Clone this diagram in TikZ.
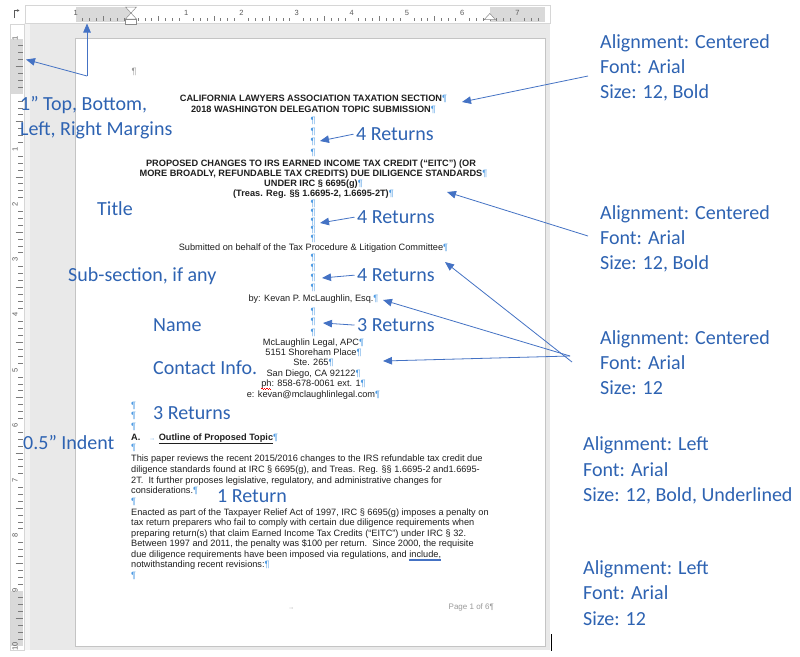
\documentclass[tikz,border=0pt]{standalone}
\usepackage{fontspec}
\setmainfont{Liberation Sans}
\newfontfamily\lblfont{Carlito}
\newfontfamily\docfont{Liberation Sans}
\usetikzlibrary{arrows.meta}
\definecolor{lblblue}{HTML}{2E63B2}
\definecolor{arrblue}{HTML}{4472C4}
\definecolor{pilblue}{HTML}{4F9BE3}
\definecolor{wsgray}{HTML}{E9E9E9}
\definecolor{rulgray}{HTML}{D9D9D9}
\definecolor{bordgray}{HTML}{C4C4C4}
\definecolor{numgray}{HTML}{5A5A5A}
\definecolor{ftgray}{HTML}{9A9A9A}
\newcommand\pil{{\color{pilblue}\mdseries ¶}}
\newcommand\pr{\rlap{\pil}}
\newcommand\sqz{\rule[-2.2pt]{1.25pt}{0.6pt}\rule[-3.1pt]{1.25pt}{0.6pt}}
\newcommand\redwave[1]{\rlap{\color{red}\sqz\sqz\sqz\sqz}#1}
\newcommand\dblul[1]{\sbox0{#1}\rlap{\color{arrblue}\rule[-1.7pt]{\wd0}{0.45pt}}\rlap{\color{arrblue}\rule[-2.9pt]{\wd0}{0.45pt}}\usebox0}
\begin{document}
\begin{tikzpicture}[x=1pt,y=-1pt,
 lbl/.style={font=\lblfont\fontsize{20}{24}\selectfont,text=lblblue,inner sep=0pt,anchor=base west},
 doc/.style={font={\docfont\fontsize{9.2}{11}\selectfont},text=black!88,inner sep=0pt,anchor=base},
 docb/.style={doc,font={\docfont\fontsize{9.2}{11}\selectfont\bfseries}},
 docl/.style={doc,anchor=base west},
 pmark/.style={doc,text=pilblue},
 conn/.style={draw=arrblue,line width=0.8pt,-{Triangle[length=9pt,width=7.5pt]}},
 rnum/.style={font={\docfont\fontsize{7.5}{8}\selectfont},text=numgray,inner sep=0pt},
 tick/.style={draw=numgray!80,line width=0.5pt},
 imark/.style={fill=white,draw=numgray!70,line width=0.5pt}
]
\useasboundingbox (0,0) rectangle (800,656);
\fill[white] (0,0) rectangle (800,656);
% workspace and page
\fill[wsgray] (24,23) rectangle (550,650);
\fill[white!50!wsgray] (24,23) rectangle (30,650);
\filldraw[fill=white,draw=bordgray,line width=0.8pt] (75.8,38.8) rectangle (545,646);
% top ruler
\filldraw[fill=white,draw=bordgray!70,line width=0.5pt] (25,5) rectangle (550,23);
\fill[rulgray] (75.8,7) rectangle (131,21.5);
\fill[rulgray] (489.8,7) rectangle (545,21.5);
\foreach \k in {-7,...,59}{
  \pgfmathsetmacro\xx{131+\k*6.9}
  \pgfmathtruncatemacro\m{mod(\k+80,8)}
  \ifnum\m=0\relax\else
    \ifnum\m=4 \draw[tick] (\xx,16) -- (\xx,20.5);\else\draw[tick] (\xx,18.3) -- (\xx,20.5);\fi
  \fi}
\foreach \n/\t in {-1/1,1/1,2/2,3/3,4/4,5/5,6/6,7/7}
  \node[rnum] at ({131+(\n)*55.2},12.5) {\t};
\filldraw[imark] (125.5,7) -- (136.5,7) -- (131,13) -- cycle;
\filldraw[imark] (131,13) -- (125.5,19) -- (136.5,19) -- cycle;
\filldraw[imark] (125.5,19) rectangle (136.5,24.5);
\filldraw[imark] (489.8,13.5) -- (484.3,19.5) -- (495.3,19.5) -- cycle;
\draw[numgray,line width=0.7pt,-{Stealth[length=2.5pt,width=2.5pt]}] (14,18) -- (14,10.5) -- (19.5,10.5);
% left ruler
\filldraw[fill=white,draw=bordgray!70,line width=0.5pt] (10,24) rectangle (24,650);
\fill[rulgray] (11,38.8) rectangle (23,94);
\fill[rulgray] (11,590.8) rectangle (23,646);
\foreach \k in {-7,...,79}{
  \pgfmathsetmacro\yy{94+\k*6.9}
  \pgfmathtruncatemacro\m{mod(\k+80,8)}
  \ifnum\m=0\relax\else
    \ifnum\m=4 \draw[tick] (15.5,\yy) -- (22.5,\yy);\else\draw[tick] (18.3,\yy) -- (22.5,\yy);\fi
  \fi}
\begin{scope}
\clip (10,24) rectangle (24,650);
\foreach \n/\t in {-1/1,1/1,2/2,3/3,4/4,5/5,6/6,7/7,8/8,9/9,10/10}
  \node[rnum,rotate=90] at (15,{94+(\n)*55.2}) {\t};
\end{scope}
% cursor
\draw[black,line width=1.4pt] (551.5,634) -- (551.5,651);

% ---------- document text ----------
\node[doc,text=ftgray] (hp) at (134,74.3) {¶};
\node[docb] (t1) at (311,101.3) {CALIFORNIA LAWYERS ASSOCIATION TAXATION SECTION\pr};
\node[docb] (t2) at (311,112.3) {2018 WASHINGTON DELEGATION TOPIC SUBMISSION\pr};
\foreach \y [count=\i] in {120,131,141,152} \node[pmark] (pa\i) at (313,\y+3.3) {¶};
\node[docb] (p1) at (311,166.3) {PROPOSED CHANGES TO IRS EARNED INCOME TAX CREDIT (“EITC”) (OR};
\node[docb] (p2) at (311,176.3) {MORE BROADLY, REFUNDABLE TAX CREDITS) DUE DILIGENCE STANDARDS\pr};
\node[docb] (p3) at (311,186.3) {UNDER IRC § 6695(g)\pr};
\node[docb] (p4) at (311,196.3) {(Treas. Reg. §§ 1.6695-2, 1.6695-2T)\pr};
\foreach \y [count=\i] in {203,212,221,229.5,238.5} \node[pmark] (pb\i) at (313,\y+3.3) {¶};
\node[doc] (sub) at (311,250.8) {Submitted on behalf of the Tax Procedure \& Litigation Committee\pr};
\foreach \y [count=\i] in {257.5,267.5,277,287} \node[pmark] (pc\i) at (313,\y+3.3) {¶};
\node[doc] (by) at (311,301.8) {by: Kevan P. McLaughlin, Esq.\pr};
\foreach \y [count=\i] in {311,321.5,332} \node[pmark] (pd\i) at (313,\y+3.3) {¶};
\node[doc] (c1) at (311,345.3) {McLaughlin Legal, APC\pr};
\node[doc] (c2) at (311,355.8) {5151 Shoreham Place\pr};
\node[doc] (c3) at (311,365.8) {Ste. 265\pr};
\node[doc] (c4) at (311,376.3) {San Diego, CA 92122\pr};
\node[doc] (c5) at (311,386.3) {\redwave{ph}: 858-678-0061 ext. 1\pr};
\node[doc] (c6) at (311,397.3) {e: kevan@mclaughlinlegal.com\pr};
\foreach \y [count=\i] in {405,415.5,426} \node[pmark,anchor=base west] (pe\i) at (131,\y+3.3) {¶};
\node[docb,anchor=base west] (ha) at (131,440.3) {A.};
\node[doc,text=pilblue] (htab) at (152,440.3) {\fontsize{6}{7}\selectfont →};
\node[docb,anchor=base west] (hh) at (158.6,440.3) {\underline{Outline of Proposed Topic}\pil};
\node[pmark,anchor=base west] (pf) at (131,450.8) {¶};
\node[docl] (a1) at (131,461.3) {This paper reviews the recent 2015/2016 changes to the IRS refundable tax credit due};
\node[docl] (a2) at (131,472.3) {diligence standards found at IRC § 6695(g), and Treas. Reg. §§ 1.6695-2 and1.6695-};
\node[docl] (a3) at (131,483.3) {2T.\ \ It further proposes legislative, regulatory, and administrative changes for};
\node[docl] (a4) at (131,493.8) {considerations.\pil};
\node[pmark,anchor=base west] (pg) at (131,504.3) {¶};
\node[docl] (b1) at (131,515.3) {Enacted as part of the Taxpayer Relief Act of 1997, IRC § 6695(g) imposes a penalty on};
\node[docl] (b2) at (131,525.8) {tax return preparers who fail to comply with certain due diligence requirements when};
\node[docl] (b3) at (131,536.3) {preparing return(s) that claim Earned Income Tax Credits (“EITC”) under IRC § 32.};
\node[docl] (b4) at (131,546.8) {Between 1997 and 2011, the penalty was \$100 per return.\ \ Since 2000, the requisite};
\node[docl] (b5) at (131,557.3) {due diligence requirements have been imposed via regulations, and \dblul{include,}};
\node[docl] (b6) at (131,567.8) {notwithstanding recent revisions:\pil};
\node[pmark,anchor=base west] (ph) at (131,578.3) {¶};
\node[doc,text=ftgray] (ftab) at (291,609.5) {\fontsize{6}{7}\selectfont →};
\node[doc,text=ftgray,anchor=base east,font={\docfont\fontsize{8}{9}\selectfont}] (page) at (489.8,609.5) {Page 1 of 6\rlap{¶}};

% ---------- blue labels ----------
\node[lbl] (lm1) at (20,110.5) {1” Top, Bottom,};
\node[lbl] (lm2) at (20,135.5) {Left, Right Margins};
\node[lbl] (ltitle) at (97,215.5) {Title};
\node[lbl] (lsub) at (68,281.5) {Sub-section, if any};
\node[lbl] (lname) at (153,331.5) {Name};
\node[lbl] (lcont) at (153,374.5) {Contact Info.};
\node[lbl] (l3r) at (153,419.5) {3 Returns};
\node[lbl] (lind) at (23,449.5) {0.5” Indent};
\node[lbl] (l1r) at (217,502) {1 Return};
\node[lbl] (r1) at (356,140.5) {4 Returns};
\node[lbl] (r2) at (357,223.5) {4 Returns};
\node[lbl] (r3) at (357,281.5) {4 Returns};
\node[lbl] (r4) at (357,331.5) {3 Returns};

\node[lbl] (k1a) at (600,48.5) {Alignment: Centered};
\node[lbl] (k1b) at (600,73.5) {Font: Arial};
\node[lbl] (k1c) at (600,98.5) {Size: 12, Bold};
\node[lbl] (k2a) at (600,219.5) {Alignment: Centered};
\node[lbl] (k2b) at (600,244.5) {Font: Arial};
\node[lbl] (k2c) at (600,269.5) {Size: 12, Bold};
\node[lbl] (k3a) at (600,344.5) {Alignment: Centered};
\node[lbl] (k3b) at (600,369.5) {Font: Arial};
\node[lbl] (k3c) at (600,394.5) {Size: 12};
\node[lbl] (k4a) at (583,450.5) {Alignment: Left};
\node[lbl] (k4b) at (583,476) {Font: Arial};
\node[lbl] (k4c) at (583,501.5) {Size: 12, Bold, Underlined};
\node[lbl] (k5a) at (583,574.5) {Alignment: Left};
\node[lbl] (k5b) at (583,599.5) {Font: Arial};
\node[lbl] (k5c) at (583,625) {Size: 12};

% ---------- connectors ----------
\coordinate (mj) at (87,76);
\coordinate (mtop) at (87,23.5);
\coordinate (mleft) at (26,59.5);
\draw[conn] (mj) -- (mtop);
\draw[conn] (mj) -- (mleft);

\coordinate (tr1) at (320,141);
\coordinate (tr2) at (320,223);
\coordinate (tr3) at (322,278);
\coordinate (tr4) at (323,323);
\draw[conn] ([xshift=-2.5pt]r1.west) -- (tr1);
\draw[conn] ([xshift=-2.5pt]r2.west) -- (tr2);
\draw[conn] ([xshift=-2.5pt]r3.west) -- (tr3);
\draw[conn] ([xshift=-2.5pt]r4.west) -- (tr4);

\coordinate (s1) at (588,76);
\coordinate (e1) at (462,102);
\draw[conn] (s1) -- (e1);
\coordinate (s2) at (588,236);
\coordinate (e2) at (447,192);
\draw[conn] (s2) -- (e2);
\coordinate (s3a) at (572,362);
\coordinate (s3b) at (570,356);
\coordinate (e3a) at (445,262);
\coordinate (e3b) at (383,300);
\coordinate (e3c) at (383,361);
\draw[conn] (s3a) -- (e3a);
\draw[conn] (s3b) -- (e3b);
\draw[conn] (s3b) -- (e3c);
\end{tikzpicture}
\end{document}
